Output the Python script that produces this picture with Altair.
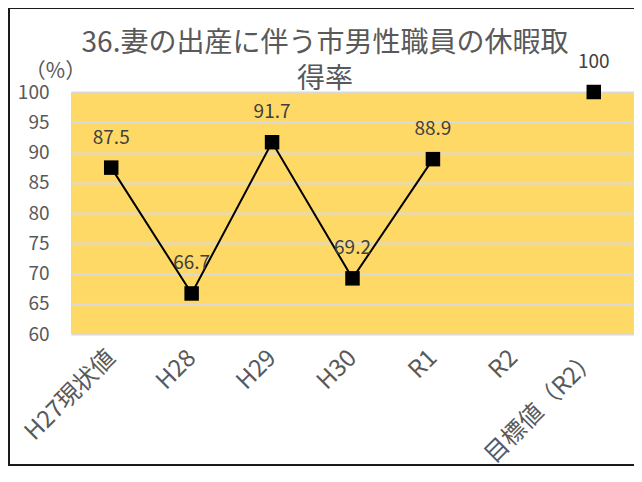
import altair as alt
import pandas as pd

categories = ["H27現状値", "H28", "H29", "H30", "R1", "R2", "目標値（R2）"]
values = [87.5, 66.7, 91.7, 69.2, 88.9, None, 100]
line_flags = [True, True, True, True, True, False, False]
y_ticks = [60, 65, 70, 75, 80, 85, 90, 95, 100]
title_text = "36.妻の出産に伴う市男性職員の休暇取\n得率"

df = pd.DataFrame({"category": categories, "value": values, "line": line_flags})
pts = df.dropna(subset=["value"])
line_df = df[df["line"]]

FONT = "Noto Sans CJK JP"
GRAY = "#595959"
W, H = 563, 242

x_enc = alt.X(
    "category:N",
    sort=categories,
    scale=alt.Scale(type="point", padding=0.5, domain=categories),
    axis=alt.Axis(
        title=None, labelAngle=-45, labelAlign="right", labelBaseline="middle",
        labelPadding=20, domain=False, ticks=False, grid=False,
        labelFont=FONT, labelFontSize=24, labelColor=GRAY,
    ),
)
y_enc = alt.Y(
    "value:Q",
    scale=alt.Scale(domain=[60, 100], nice=False, zero=False),
    axis=alt.Axis(
        title="（%）", titleAngle=0, titleX=-16, titleY=-21, titleAlign="center",
        titleBaseline="middle", titleFont=FONT, titleFontSize=21,
        titleFontWeight="normal", titleColor=GRAY,
        values=y_ticks, domain=False, ticks=False, grid=True,
        gridColor="#D9D9D9", gridWidth=2, labelPadding=22,
        labelFont=FONT, labelFontSize=19, labelColor=GRAY,
    ),
)

line = alt.Chart(line_df).mark_line(color="black", strokeWidth=2).encode(x=x_enc, y=y_enc)
points = alt.Chart(pts).mark_point(shape="square", filled=True, size=210, color="black", opacity=1).encode(x=x_enc, y=y_enc)
labels = alt.Chart(pts).mark_text(dy=-30, fontSize=19, font=FONT, color="#404040").encode(
    x=x_enc, y=y_enc, text=alt.Text("value:Q")
)
title = alt.Chart(pd.DataFrame({"t": [title_text]})).mark_text(
    font=FONT, fontSize=28, color=GRAY, lineBreak="\n", lineHeight=36,
    align="center", baseline="middle",
).encode(text="t:N", x=alt.value(254), y=alt.value(-48))
border = alt.Chart(pd.DataFrame({"a": [0]})).mark_rect(
    filled=False, stroke="#1a1a1a", strokeWidth=2
).encode(
    x=alt.value(-62), x2=alt.value(W + 40), y=alt.value(-84), y2=alt.value(H + 131)
)

chart = alt.layer(line, points, labels, title, border).properties(
    width=W, height=H,
    padding={"left": 63, "top": 84, "right": 0, "bottom": 134},
    autosize=alt.AutoSizeParams(type="none"),
).configure(background="white").configure_view(fill="#FFD966", stroke=None)

chart.save("out.html", embed_options={"renderer": "svg", "actions": False})
